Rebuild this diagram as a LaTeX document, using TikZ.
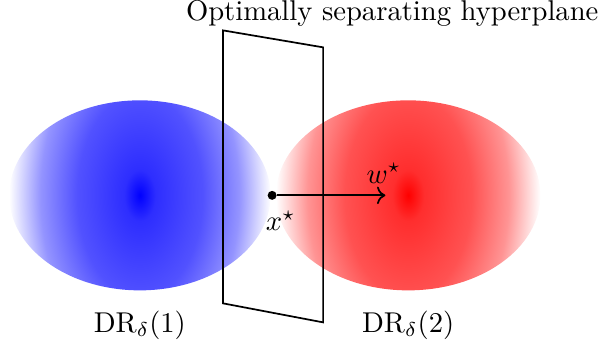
\documentclass[tikz,border=0pt]{standalone}
\usepackage{amsmath,amssymb}
\usetikzlibrary{arrows.meta,positioning}

% soft blobs: bright core, slow fall-off, white rim
\pgfdeclareradialshading{blueblob}{\pgfpoint{0bp}{0bp}}{color(0bp)=(blue); color(3bp)=(blue!82); color(12bp)=(blue!68); color(19bp)=(blue!42); color(25bp)=(white); color(50bp)=(white)}
\pgfdeclareradialshading{redblob}{\pgfpoint{0bp}{0bp}}{color(0bp)=(red); color(3bp)=(red!82); color(12bp)=(red!68); color(19bp)=(red!42); color(25bp)=(white); color(50bp)=(white)}

\begin{document}
\begin{tikzpicture}[scale=0.933, semithick,
    dot/.style={circle, fill=black, inner sep=0pt, minimum size=1.1mm},
]
\useasboundingbox (-3.58,-1.97) rectangle (4.34,2.57);
% Regions
\begin{scope}
  \clip (-1.74,0) ellipse (1.72 and 1.25);
  \shade[shading=blueblob] (-1.74,0) ellipse (1.72 and 2.8);
\end{scope}
\begin{scope}
  \clip (1.79,0) ellipse (1.74 and 1.25);
  \shade[shading=redblob] (1.79,0) ellipse (1.74 and 2.8);
\end{scope}
\node (dr1) at (-1.74,-1.71) {$\mathrm{DR}_\delta(1)$};
\node (dr2) at (1.79,-1.71) {$\mathrm{DR}_\delta(2)$};

% Hyperplane
\draw (-0.645,2.17) -- (0.671,1.947) -- (0.671,-1.671) -- (-0.645,-1.421) -- cycle;
\node (title) at (1.58,2.39) {Optimally separating hyperplane};

% Point and normal
\node[dot] (xs) at (0,0) {};
\node[below right=0.02cm and -0.25cm of xs] (xlab) {$x^\star$};
\coordinate (wend) at (1.49,0);
\draw[->] (xs) -- (wend);
\node[above=0.02cm of wend, xshift=-0.02cm] (wlab) {$w^\star$};
\end{tikzpicture}
\end{document}
